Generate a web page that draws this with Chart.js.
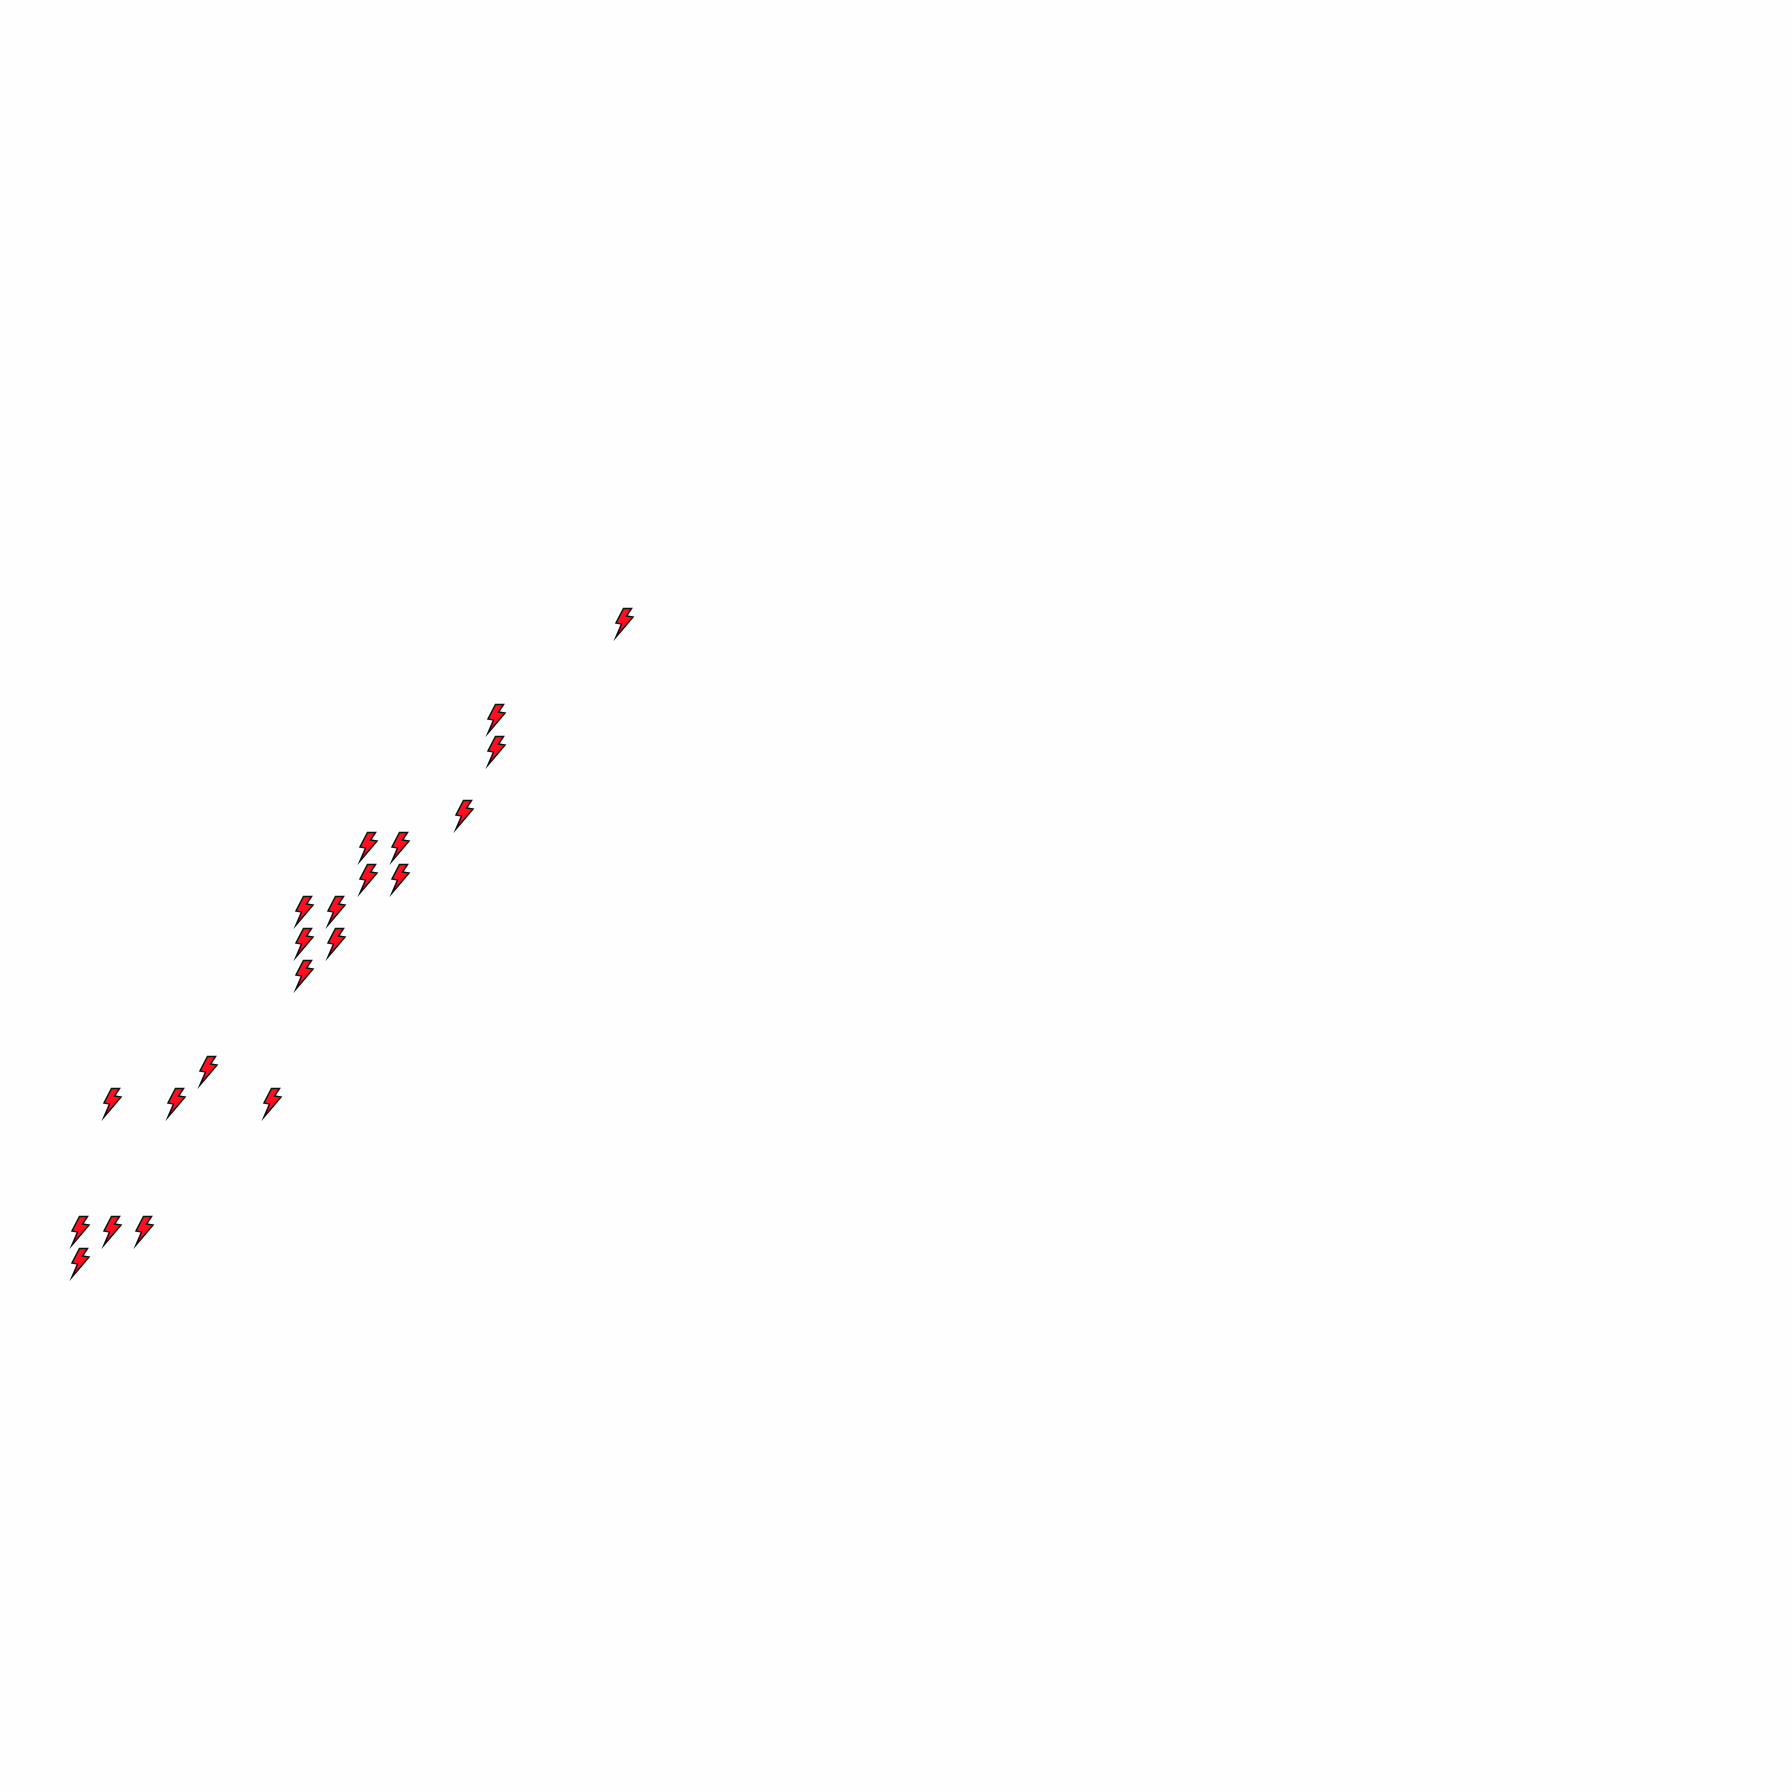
<!DOCTYPE html>
<html>
<head>
<meta charset="utf-8">
<title>Bolts</title>
<script src="https://cdn.jsdelivr.net/npm/chart.js@4"></script>
<style>
    html, body { margin: 0; padding: 0; background: #fefefe; }
    #wrap { width: 1792px; height: 1792px; }
</style>
</head>
<body>
<div id="wrap"><canvas id="chart" width="1792" height="1792"></canvas></div>
<script>
// --- DATA ---
const xValues = [17, 13, 13, 12, 9, 10, 9, 10, 7, 8, 7, 8, 7, 4, 1, 3, 6, 0, 1, 2, 0];
const yValues = [20, 17, 16, 14, 13, 13, 12, 12, 11, 11, 10, 10, 9, 6, 5, 5, 5, 1, 1, 1, 0];

// lightning bolt marker, drawn once and handed to Chart.js as a pointStyle
function makeBolt() {
    const c = document.createElement("canvas");
    c.width = 40;
    c.height = 40;
    const g = c.getContext("2d");
    g.beginPath();
    g.moveTo(20.5, 5.5);
    g.lineTo(28.5, 5.5);
    g.lineTo(23.5, 13);
    g.lineTo(30, 14);
    g.lineTo(13, 34);
    g.lineTo(18.5, 21);
    g.lineTo(13, 20);
    g.closePath();
    g.fillStyle = "#fb0f22";
    g.strokeStyle = "#111";
    g.lineWidth = 1.5;
    g.lineJoin = "miter";
    g.fill();
    g.stroke();
    return c;
}

new Chart(document.getElementById("chart"), {
    type: "scatter",
    data: {
        datasets: [{
            data: xValues.map((x, i) => ({ x: x, y: yValues[i] })),
            pointStyle: makeBolt(),
            pointRadius: 20
        }]
    },
    options: {
        responsive: false,
        animation: false,
        // autoPadding would shrink the chart area by the marker radius
        layout: { padding: 0, autoPadding: false },
        plugins: { legend: { display: false }, tooltip: { enabled: false } },
        scales: {
            // 32px per unit on both axes, no visible axes in the picture
            x: { type: "linear", display: false, min: -2.46875, max: 53.53125 },
            y: { type: "linear", display: false, min: -16.53125, max: 39.46875 }
        }
    }
});
</script>
</body>
</html>
